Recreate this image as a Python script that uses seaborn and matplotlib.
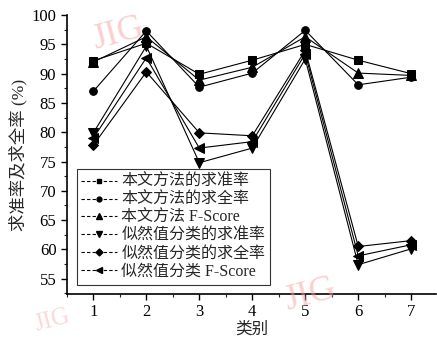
import seaborn as sns
import matplotlib.pyplot as plt
import pandas as pd
from matplotlib.lines import Line2D
from matplotlib.ticker import MultipleLocator

# data
categories = [1, 2, 3, 4, 5, 6, 7]
ours_precision = [92.2, 95.2, 89.9, 92.3, 95.0, 92.3, 90.0]
ours_recall = [87.0, 97.3, 87.7, 90.1, 97.4, 88.1, 89.4]
ours_fscore = [92.0, 96.3, 88.9, 91.1, 96.3, 90.1, 89.7]
ml_precision = [79.9, 94.7, 74.8, 77.3, 92.5, 57.4, 60.1]
ml_recall = [77.8, 90.3, 79.9, 79.4, 94.0, 60.5, 61.5]
ml_fscore = [79.0, 92.7, 77.3, 78.4, 93.4, 58.9, 60.8]

series_names = ["本文方法的求准率", "本文方法的求全率", "本文方法 F-Score",
                "似然值分类的求准率", "似然值分类的求全率", "似然值分类 F-Score"]
series_values = [ours_precision, ours_recall, ours_fscore,
                 ml_precision, ml_recall, ml_fscore]
marker_list = ["s", "o", "^", "v", "D", "<"]
marker_sizes = [5.5, 5.5, 6.5, 6.5, 5.5, 6.5]

df = pd.concat([pd.DataFrame({"类别": categories, "值": v, "series": n})
                for n, v in zip(series_names, series_values)])

sns.set_style("ticks")
plt.rcParams["font.family"] = ["Liberation Serif", "Noto Sans CJK SC"]

fig = plt.figure(figsize=(4.37, 3.43), dpi=100)
ax = fig.add_axes([0.153, 0.143, 0.845, 0.813])

for name, m, ms in zip(series_names, marker_list, marker_sizes):
    sns.lineplot(data=df[df["series"] == name], x="类别", y="值", ax=ax,
                 color="black", linewidth=0.8, marker=m, markersize=ms,
                 markeredgecolor="black", legend=False)

ax.set_xlim(0.5, 7.47)
ax.set_ylim(52.4, 100)
ax.set_xticks(categories)
ax.yaxis.set_major_locator(MultipleLocator(5))
ax.yaxis.set_minor_locator(MultipleLocator(2.5))
ax.xaxis.set_minor_locator(MultipleLocator(0.5))
ax.tick_params(which="major", length=4, width=1, labelsize=12, colors="black")
ax.tick_params(which="minor", length=2.5, width=0.8)
for s in ["left", "bottom"]:
    ax.spines[s].set_linewidth(1.2)
    ax.spines[s].set_color("black")
sns.despine(ax=ax)

ax.set_xlabel("类别", fontsize=12, labelpad=1)
ax.set_ylabel("求准率及求全率 (%)", fontsize=12.5, labelpad=3)

handles = [Line2D([], [], color="black", linestyle=(0, (3, 2)), linewidth=0.8,
                  marker=m, markersize=ms - 2) for m, ms in zip(marker_list, marker_sizes)]
leg = ax.legend(handles, series_names, loc="lower left", bbox_to_anchor=(0.005, 0.005),
                fontsize=11.5, frameon=True, fancybox=False, handlelength=2.2,
                handletextpad=0.3, labelspacing=0.12, borderpad=0.3)
leg.get_frame().set_edgecolor("black")
leg.get_frame().set_linewidth(0.8)

# watermarks
fig.text(0.27, 0.9, "JIG", color="#f5a0a0", alpha=0.5, fontsize=26, rotation=15,
         ha="center", va="center")
fig.text(0.71, 0.14, "JIG", color="#f5a0a0", alpha=0.5, fontsize=26, rotation=15,
         ha="center", va="center")
fig.text(0.12, 0.065, "JIG", color="#f5a0a0", alpha=0.4, fontsize=18, rotation=15,
         ha="center", va="center")

fig.savefig("out.png", dpi=100)
